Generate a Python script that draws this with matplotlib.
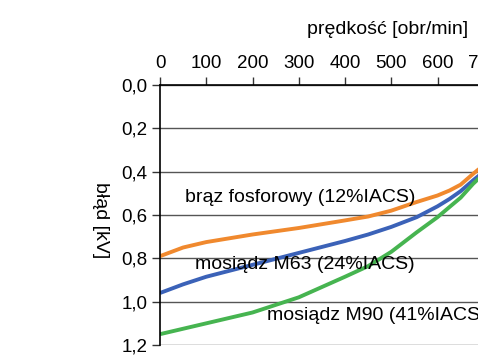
import numpy as np
import matplotlib
matplotlib.use("Agg")
import matplotlib.pyplot as plt

plt.rcParams["font.family"] = ["Liberation Sans", "DejaVu Sans"]

ORANGE = "#f0892e"; BLUE = "#3b62b8"; GREEN = "#46b450"

# prędkość [obr/min] vs błąd [kV] (obraz odwrócony w pionie)
speed_orange = [0, 50, 100, 200, 300, 400, 450, 500, 555, 600, 626, 650, 677, 700]
err_orange = [0.79, 0.75, 0.725, 0.69, 0.66, 0.625, 0.607, 0.58, 0.54, 0.51, 0.487, 0.46, 0.41, 0.37]
speed_blue = [0, 50, 100, 200, 300, 400, 450, 500, 555, 600, 626, 650, 677, 700]
err_blue = [0.96, 0.92, 0.885, 0.83, 0.775, 0.72, 0.69, 0.655, 0.61, 0.56, 0.526, 0.49, 0.44, 0.40]
speed_green = [0, 100, 200, 300, 400, 450, 500, 555, 600, 626, 650, 677, 700]
err_green = [1.15, 1.10, 1.05, 0.98, 0.885, 0.836, 0.77, 0.68, 0.61, 0.563, 0.52, 0.456, 0.41]

labels = ["brąz fosforowy (12%IACS)", "mosiądz M63 (24%IACS)", "mosiądz M90 (41%IACS)"]
xticks = [0, 100, 200, 300, 400, 500, 600, 700, 800]
yticks = [0.0, 0.2, 0.4, 0.6, 0.8, 1.0, 1.2]

fig = plt.figure(figsize=(4.78, 3.57), dpi=100)
ax = fig.add_axes([160/478, 12/357, 370/478, 260/357])
ax.plot(speed_orange, err_orange, color=ORANGE, lw=2.8, solid_capstyle="butt")
ax.plot(speed_blue, err_blue, color=BLUE, lw=2.8, solid_capstyle="butt")
ax.plot(speed_green, err_green, color=GREEN, lw=2.8, solid_capstyle="butt")

ax.set_xlim(0, 800); ax.set_ylim(1.2, 0.0)
ax.xaxis.tick_top()
ax.set_xticks(xticks); ax.set_yticks(yticks)
ax.set_yticklabels([f"{v:.1f}".replace(".", ",") for v in yticks])
ax.tick_params(axis="both", labelsize=13.5, length=6, width=1, color="#333", pad=3)
ax.grid(axis="y", color="#555", lw=1)
ax.set_axisbelow(True)
for s in ["right", "bottom"]:
    ax.spines[s].set_visible(False)
ax.spines["left"].set_linewidth(1.2); ax.spines["top"].set_linewidth(1.2)

ax.text(54, 0.52, labels[0], fontsize=14, va="center")
ax.text(76, 0.83, labels[1], fontsize=14, va="center")
ax.text(231, 1.065, labels[2], fontsize=14, va="center")

fig.text(388/478, 1 - 30/357, "prędkość [obr/min]", fontsize=14, ha="center", va="center")
fig.text(101/478, 1 - 220/357, "błąd [kV]", fontsize=14, ha="center", va="center", rotation=270)

fig.savefig("out.png", dpi=100, facecolor="white")
